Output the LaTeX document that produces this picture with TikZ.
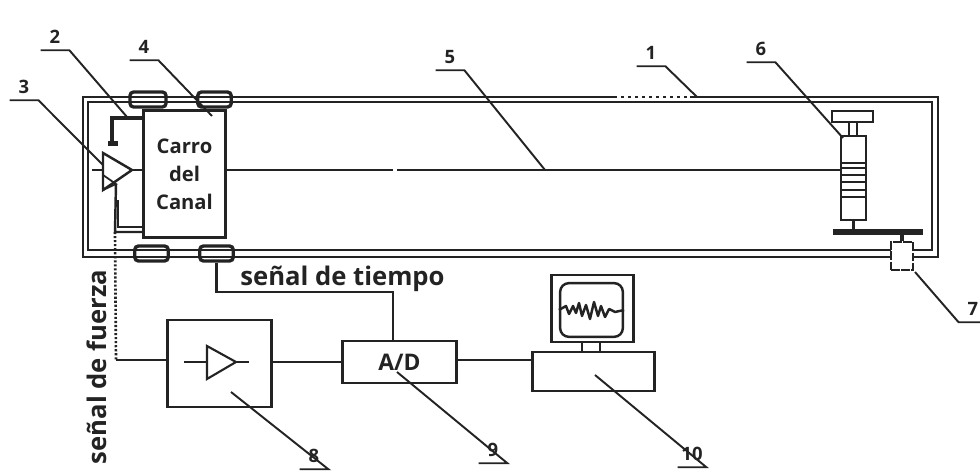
\documentclass[tikz,border=0pt]{standalone}
\usepackage{fontspec}
\setmainfont{Open Sans}
\usepackage{xcolor}
\definecolor{inkfig}{RGB}{35, 35, 35}
\tikzset{
    railsolid/.style={line width=1.4pt, color=inkfig},
    wiresolid/.style={line width=1.4pt, color=inkfig},
    wirethin/.style={line width=1pt, color=inkfig},
    wiredotted/.style={line width=1.5pt, dash pattern=on 1.2pt off 1.1pt, color=inkfig},
    leaderfig/.style={line width=1.1pt, color=inkfig},
    platebar/.style={line width=3pt, color=inkfig},
    wheelfig/.style={draw=inkfig, line width=1.9pt, rounded corners=2pt, inner sep=0pt, minimum width=19pt, minimum height=8.5pt},
    boxfig/.style={draw=inkfig, line width=1.5pt, fill=white, inner sep=0pt, font=\bfseries\fontsize{13}{15}\selectfont, text=inkfig},
    numfig/.style={inner sep=0pt, minimum width=16pt, minimum height=14.7pt, font=\bfseries\fontsize{10.5}{12}\selectfont, text=inkfig},
    textfig/.style={inner sep=0pt, font=\fontsize{14.6}{17}\selectfont\bfseries, text=inkfig}
}

\begin{document}
\begin{tikzpicture}[x=0.02cm, y=-0.02cm]
        \useasboundingbox (0,0) rectangle (980,472);

        % canal frame
        \draw[railsolid] (83,97) rectangle (938,257);
        \draw[railsolid] (88,102) rectangle (932,250);
        \draw[white, line width=1.5pt, dash pattern=on 2pt off 2pt] (617,97) -- (690,97);

        % wheels of the carriage
        \node[wheelfig, minimum width=20.5pt] (wheeltl) at (148,99.5) {};
        \node[wheelfig] (wheeltr) at (214.5,99.5) {};
        \node[wheelfig] (wheelbl) at (151.5,253.5) {};
        \node[wheelfig] (wheelbr) at (216.5,253.5) {};

        % carriage
        \node[boxfig, minimum width=47pt, minimum height=72.5pt, align=center, font=\bfseries\fontsize{11.5}{16}\selectfont] (carro) at (184.5,174) {Carro\\del\\Canal};

        % part 2
        \coordinate (A) at (143,118);
        \coordinate (B) at (112,118);
        \coordinate (C) at (112,143);
        \draw[wiresolid, line width=2.2pt] (A) -- (B) -- (C);
        \draw[platebar, line width=3.4pt] (108,143.5) -- (118,143.5);

        % part 3
        \coordinate (T1) at (103,153);
        \coordinate (T2) at (103,190);
        \coordinate (T3) at (132,170);
        \coordinate (T4) at (116,184);
        \draw[wiresolid] (T1) -- (T3) -- (T2) -- cycle;
        \draw[wirethin] (103,175) -- (T4) -- (T2);
        \draw[wirethin] (92,170) -- (103,170);
        \draw[wirethin] (T3) -- (143,170);

        % force signal
        \coordinate (F1) at (115,232);
        \coordinate (F2) at (116,360);
        \draw[wiresolid] (carro.west |- F1) -- (F1) -- (T4);
        \draw[wirethin] (carro.west |- 0,227) -- (118,227) -- (118,200);
        \draw[wiredotted] (F1) -- (F2);

        % rod and force gauge
        \node[draw=inkfig, line width=1.4pt, inner sep=0pt, minimum width=23.2pt, minimum height=6.2pt] (plate) at (852.5,116.5) {};
        \node[draw=inkfig, line width=1.4pt, inner sep=0pt, minimum width=14.2pt, minimum height=47.6pt] (gauge) at (853.5,178) {};
        \draw[wirethin] (849,122) -- (849,136);
        \draw[wirethin] (857,122) -- (857,136);
        \foreach \ystripe in {163,168,175,182,190,197}
            \draw[wiresolid] (841,\ystripe) -- (866,\ystripe);
        \draw[wiresolid] (carro.east |- 0,170) -- (gauge.west |- 0,170);
        \draw[white, line width=1.5pt] (393,170) -- (397,170);
        \coordinate (G1) at (878,232);
        \draw[platebar] (833,232) -- (923,232);
        \draw[wiresolid, line width=2pt] (gauge.south) -- (gauge.south |- G1);

        % part 7
        \node[draw=inkfig, line width=1.4pt, dash pattern=on 5pt off 0.8pt, fill=white, inner sep=0pt, minimum width=12.5pt, minimum height=16pt] (sensor) at (902,256) {};
        \draw[wiresolid, line width=2pt] (sensor.north) -- (sensor.north |- G1);

        % amplifier
        \node[boxfig, minimum width=59.5pt, minimum height=49.5pt] (amp) at (219.5,363.5) {};
        \coordinate (P1) at (207,346);
        \coordinate (P2) at (207,379);
        \coordinate (P3) at (236,362);
        \draw[wirethin, line width=1.2pt] (P1) -- (P3) -- (P2) -- cycle;
        \draw[wirethin] (184,362) -- (207,362);
        \draw[wirethin] (P3) -- (249,362);
        \draw[wiresolid] (F2) -- (F2 -| amp.west);

        % converter
        \node[boxfig, minimum width=65pt, minimum height=23.8pt] (conv) at (399.5,362) {A/D};
        \draw[wiresolid] (amp.east |- conv) -- (conv.west);
        \coordinate (E) at (393,292);
        \draw[wiresolid] (wheelbr.south) |- (E) -- (E |- conv.north);

        % computer
        \node[boxfig, minimum width=69.7pt, minimum height=22pt] (pc) at (593.5,371.5) {};
        \node[boxfig, minimum width=47pt, minimum height=38pt] (monitor) at (592.5,308.5) {};
        \node[draw=inkfig, line width=1.4pt, rounded corners=5pt, inner sep=0pt, minimum width=35.7pt, minimum height=30.6pt] (screen) at (591.5,310) {};
        \draw[wiresolid] (582,342) -- (582,352);
        \draw[wiresolid] (600,342) -- (600,352);
        \draw[wiresolid] (conv.east |- 0,360) -- (pc.west |- 0,360);
        \draw[wiresolid, line join=round] (screen.west) -- (566,306) -- (569,314) -- (573,306) -- (576,313) -- (579,303) -- (582,316) -- (586,305) -- (590,319) -- (594,302) -- (598,316) -- (601,306) -- (605,317) -- (609,309) -- (615,312) -- (screen.east);

        % labels and their leaders
        \foreach \num/\xnum/\yline/\xend/\yend in {2/55/50/127/117, 4/144/60/212/116, 3/24/100/103/165, 5/450/70/545/170, 1/651/66/697/97, 6/761/62/843/138, 7/973/322/915/272, 8/314/469/231/392, 9/493/463/397/372, 10/692/467/595/375} {
            \node[numfig] (num\num) at ({\xnum},{\yline-13}) {\num};
            \coordinate (tip\num) at (\xend,\yend);
        }
        \foreach \num in {2,4,3,5,1,6,8,9,10}
            \draw[leaderfig] (num\num.south west) -- (num\num.south east) -- (tip\num);
        \draw[leaderfig] (num7.south east) -- (num7.south west) -- (tip7);

        \node[textfig, anchor=base west] (tiempo) at (240,286) {señal de tiempo};
        \node[textfig, rotate=90] (fuerza) at (97,367) {señal de fuerza};
\end{tikzpicture}
\end{document}
